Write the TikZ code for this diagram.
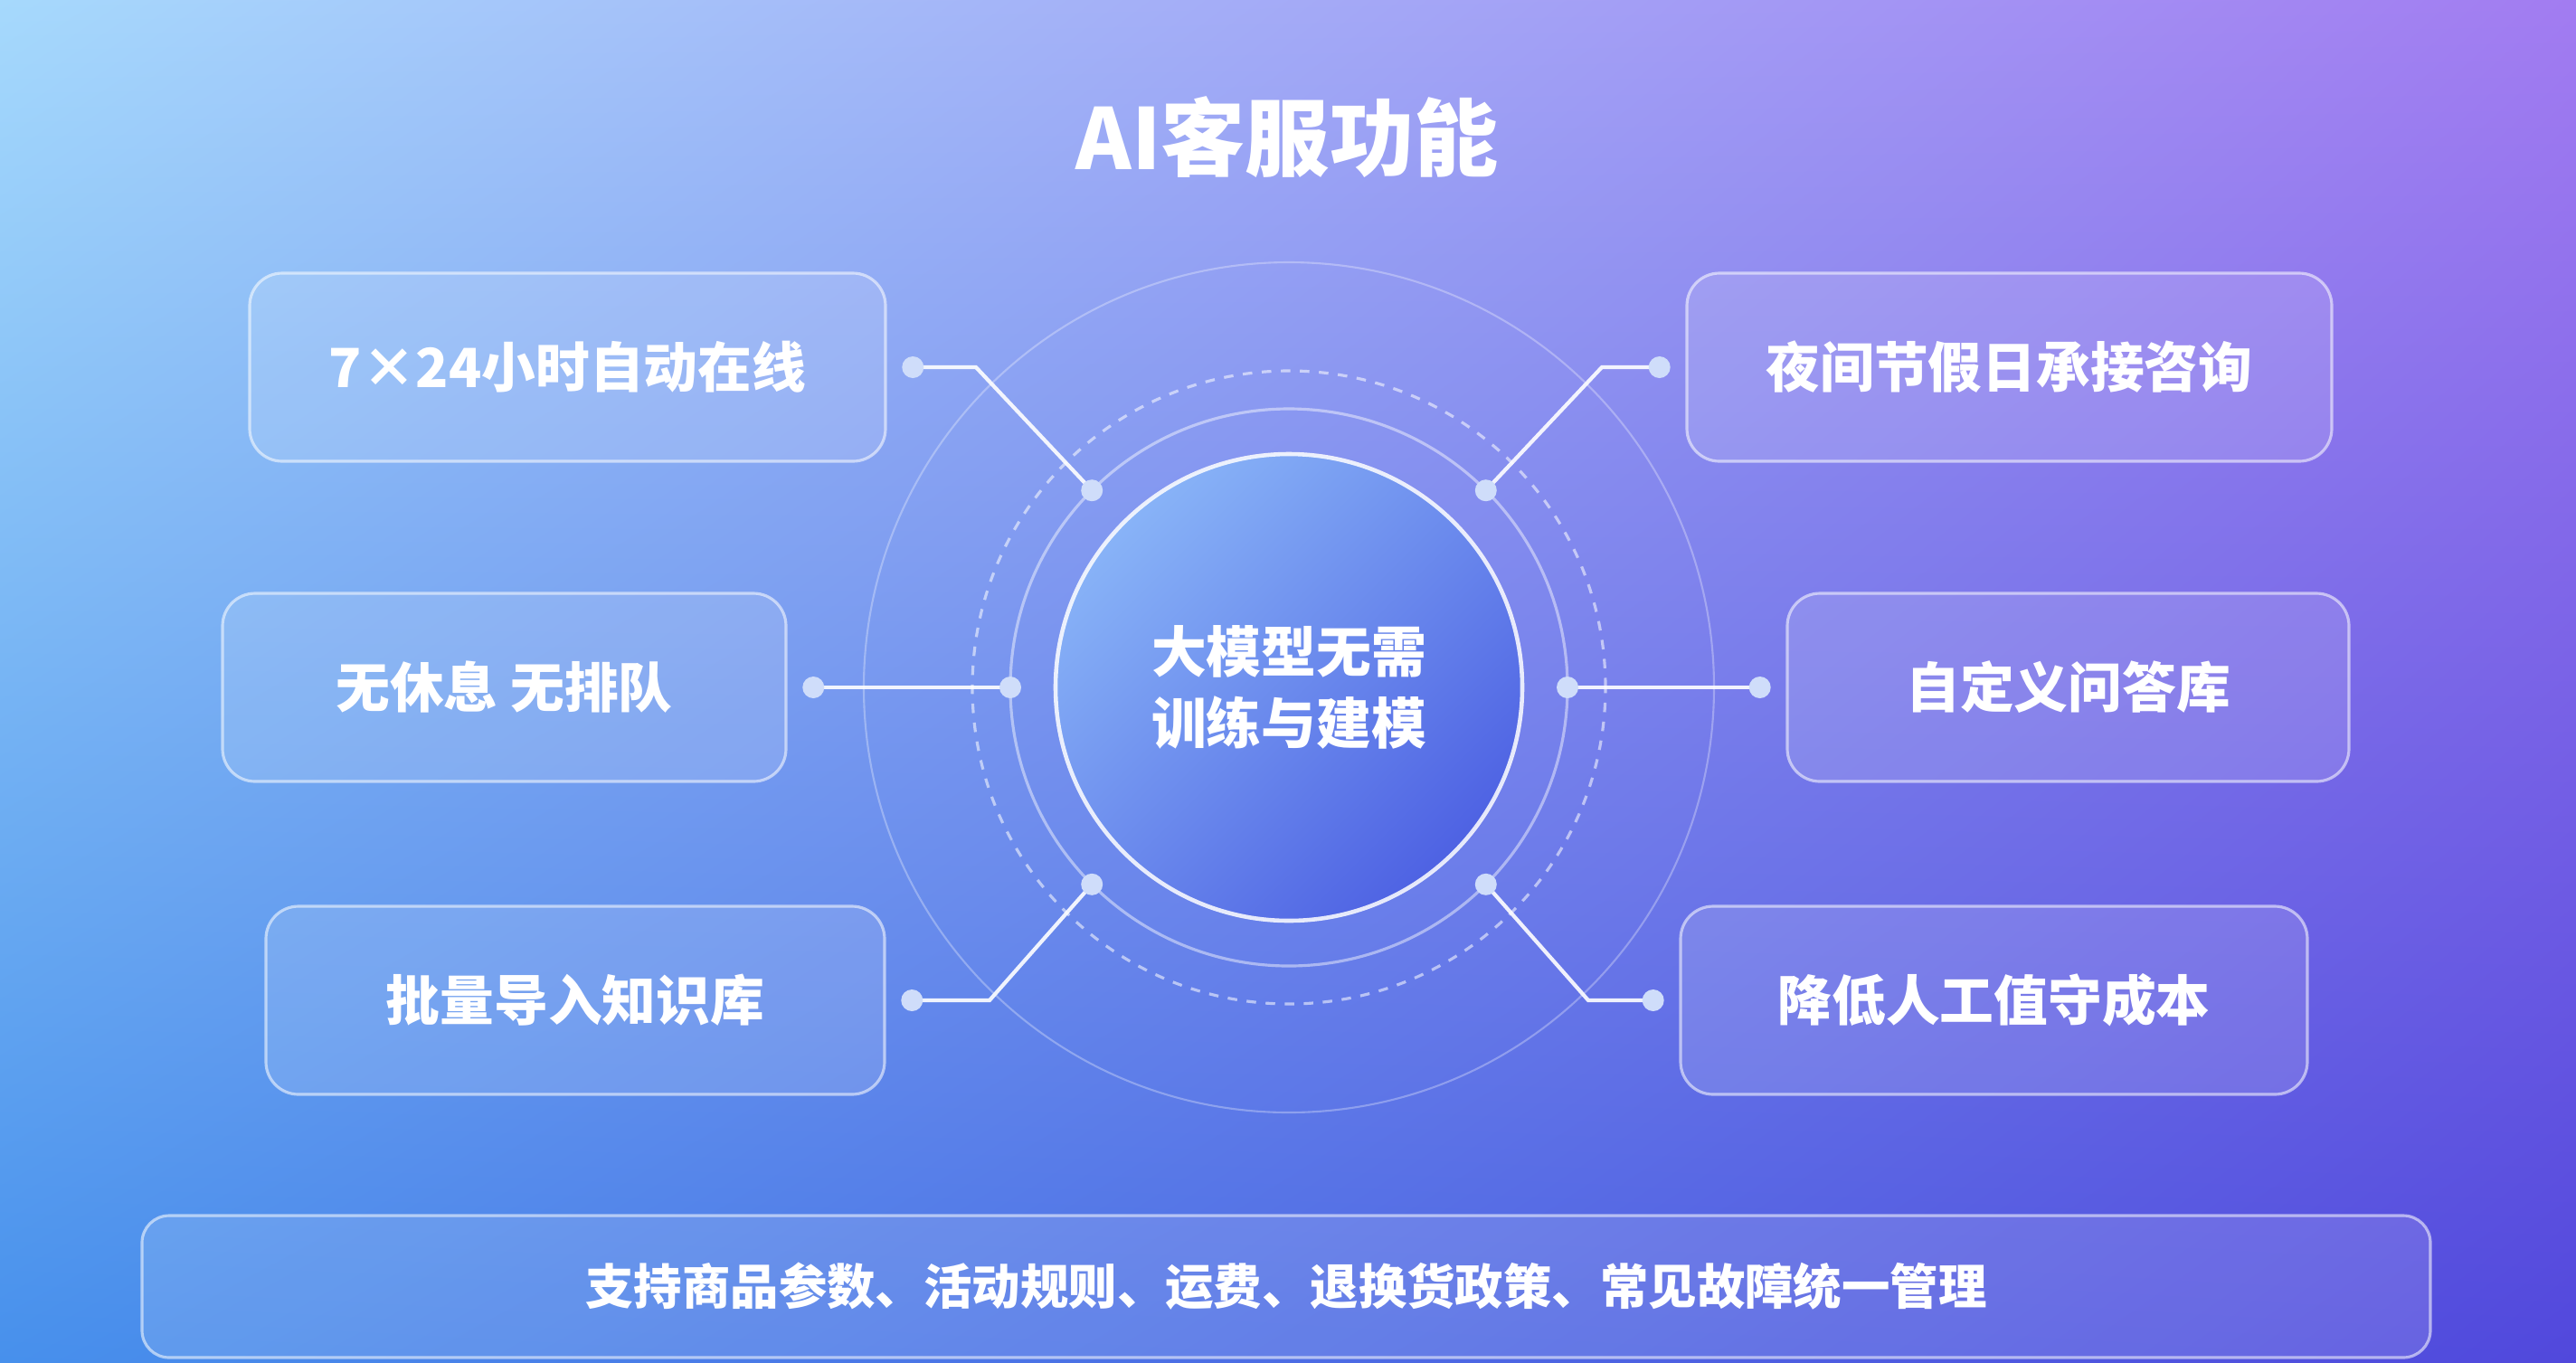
\documentclass[tikz,border=0pt]{standalone}
\usepackage{fontspec}
\setmainfont{Noto Sans CJK SC}
\usetikzlibrary{positioning,backgrounds,shadings}
\definecolor{bgtl}{HTML}{A6D9FC}
\definecolor{bgtr}{HTML}{A27CF1}
\definecolor{bgbl}{HTML}{4790EC}
\definecolor{bgbr}{HTML}{5148DC}
\definecolor{hubtop}{HTML}{88B3F7}
\definecolor{hubbot}{HTML}{4E62E3}
\definecolor{dotfill}{HTML}{CFDDFA}

\tikzset{
  featbox/.style={draw=white, draw opacity=0.55, fill=white, fill opacity=0.13,
    text opacity=1, text=white, rounded corners=0.36cm, line width=0.9pt,
    minimum height=2.08cm, font=\fontsize{17}{20}\selectfont\bfseries},
  hubdisc/.style={circle, minimum size=5.16cm, inner sep=0pt, draw=white,
    draw opacity=0.85, line width=1.3pt, top color=hubtop, bottom color=hubbot,
    shading angle=45, text=white, align=center,
    font=\fontsize{17.3}{22.5}\selectfont\bfseries},
  jointdot/.style={circle, fill=dotfill, minimum size=0.24cm, inner sep=0pt},
  linkline/.style={white, line width=1.2pt, opacity=0.9},
  ringline/.style={white, line width=0.9pt, opacity=0.45}
}

\begin{document}
\begin{tikzpicture}
  \useasboundingbox (0,0) rectangle (28.48,-15.06);
  \begin{scope}[on background layer]
    \shade[upper left=bgtl, upper right=bgtr, lower left=bgbl, lower right=bgbr]
      (0,0) rectangle (28.48,-15.06);
  \end{scope}

  % title
  \node[text=white, font=\fontsize{26.5}{30}\selectfont\bfseries] (title)
    at (14.23,-1.52) {AI客服功能};

  % centre disc and its rings
  \node[hubdisc] (hub) at (14.25,-7.60) {大模型无需\\训练与建模};
  \draw[ringline] (hub.center) circle (3.08);
  \draw[ringline, opacity=0.55, dash pattern=on 3pt off 3pt] (hub.center) circle (3.50);
  \draw[ringline, opacity=0.3, line width=0.6pt] (hub.center) circle (4.70);

  % feature boxes
  \node[featbox, minimum width=7.03cm] (feat1) at (6.275,-4.06) {7×24小时自动在线};
  \node[featbox, minimum width=6.23cm] (feat2) at (5.575,-7.60) {无休息 无排队};
  \node[featbox, minimum width=6.84cm] (feat3) at (6.36,-11.06) {批量导入知识库};
  \node[featbox, minimum width=7.13cm] (feat4) at (22.215,-4.06) {夜间节假日承接咨询};
  \node[featbox, minimum width=6.21cm] (feat5) at (22.865,-7.60) {自定义问答库};
  \node[featbox, minimum width=6.93cm] (feat6) at (22.045,-11.06) {降低人工值守成本};

  % dots on the boxes and on the ring
  \node[jointdot, right=0.16cm of feat1] (out1) {};
  \node[jointdot, right=0.16cm of feat2] (out2) {};
  \node[jointdot, right=0.16cm of feat3] (out3) {};
  \node[jointdot, left=0.16cm of feat4] (out4) {};
  \node[jointdot, left=0.16cm of feat5] (out5) {};
  \node[jointdot, left=0.16cm of feat6] (out6) {};
  \node[jointdot] (in1) at ([shift={(135:3.08)}]hub.center) {};
  \node[jointdot] (in2) at ([shift={(180:3.08)}]hub.center) {};
  \node[jointdot] (in3) at ([shift={(225:3.08)}]hub.center) {};
  \node[jointdot] (in4) at ([shift={(45:3.08)}]hub.center) {};
  \node[jointdot] (in5) at ([shift={(0:3.08)}]hub.center) {};
  \node[jointdot] (in6) at ([shift={(315:3.08)}]hub.center) {};

  \coordinate (k1) at (10.79,-4.06);
  \coordinate (k3) at (10.94,-11.06);
  \coordinate (k4) at (17.71,-4.06);
  \coordinate (k6) at (17.56,-11.06);

  \begin{scope}[on background layer]
    \draw[linkline] (out1.center) -- (k1) -- (in1.center);
    \draw[linkline] (out2.center) -- (in2.center);
    \draw[linkline] (out3.center) -- (k3) -- (in3.center);
    \draw[linkline] (out4.center) -- (k4) -- (in4.center);
    \draw[linkline] (out5.center) -- (in5.center);
    \draw[linkline] (out6.center) -- (k6) -- (in6.center);
  \end{scope}

  % bottom bar
  \node[featbox, minimum width=25.30cm, minimum height=1.57cm, rounded corners=0.3cm,
        font=\fontsize{15.2}{18}\selectfont\bfseries] (bar) at (14.22,-14.225)
    {支持商品参数、活动规则、运费、退换货政策、常见故障统一管理};
\end{tikzpicture}
\end{document}
